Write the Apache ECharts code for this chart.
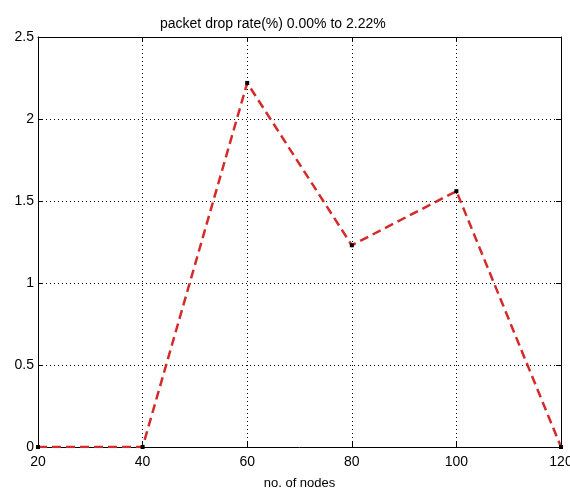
<!DOCTYPE html>
<html>
<head>
<meta charset="utf-8">
<script src="https://cdn.jsdelivr.net/npm/echarts@6/dist/echarts.min.js"></script>
<style>
  html, body { margin: 0; padding: 0; background: #fff; }
  #main { width: 570px; height: 488px; }
</style>
</head>
<body>
<div id="main"></div>
<script>
// data
var nodes = [20, 40, 60, 80, 100, 120];
var dropRate = [0, 0, 2.22, 1.23, 1.56, 0];

var chart = echarts.init(document.getElementById('main'));

var font = 'Liberation Sans, Arial, sans-serif';
var axisBase = {
  axisLine: { show: true, onZero: false, lineStyle: { color: '#000', width: 1 } },
  axisTick: { show: true, inside: true, length: 5, lineStyle: { color: '#000' } },
  axisLabel: { color: '#000', fontSize: 14, fontFamily: font }
};

var option = {
  animation: false,
  backgroundColor: '#fff',
  title: {
    text: 'packet drop rate(%) 0.00% to 2.22%',
    left: 155, top: 12,
    textStyle: { color: '#000', fontSize: 14, fontWeight: 'normal', fontFamily: font }
  },
  grid: { left: 38, right: 9, top: 37, bottom: 41, containLabel: false, outerBoundsMode: 'none' },
  xAxis: [
    Object.assign({}, axisBase, {
      type: 'value', min: 20, max: 120, interval: 20,
      name: 'no. of nodes', nameLocation: 'middle', nameGap: 30,
      nameTextStyle: { color: '#000', fontSize: 13, fontFamily: font },
      axisLabel: Object.assign({}, axisBase.axisLabel, { margin: 8 }),
      splitLine: { show: true, lineStyle: { color: '#000', type: [1, 3], width: 1 } }
    }),
    Object.assign({}, axisBase, {
      type: 'value', min: 20, max: 120, interval: 20, position: 'top',
      axisLabel: { show: false }, splitLine: { show: false }
    })
  ],
  yAxis: [
    Object.assign({}, axisBase, {
      type: 'value', min: 0, max: 2.5, interval: 0.5,
      axisLabel: Object.assign({}, axisBase.axisLabel, { margin: 4 }),
      splitLine: { show: true, lineStyle: { color: '#000', type: [1, 3], width: 1 } }
    }),
    Object.assign({}, axisBase, {
      type: 'value', min: 0, max: 2.5, interval: 0.5, position: 'right',
      axisLabel: { show: false }, splitLine: { show: false }
    })
  ],
  series: [{
    type: 'line',
    data: nodes.map(function (n, i) { return [n, dropRate[i]]; }),
    lineStyle: { color: '#d42a2a', width: 2.5, type: [9, 5] },
    symbol: 'rect', symbolSize: 4,
    itemStyle: { color: '#000' },
    z: 5
  }]
};

chart.setOption(option);
</script>
</body>
</html>
